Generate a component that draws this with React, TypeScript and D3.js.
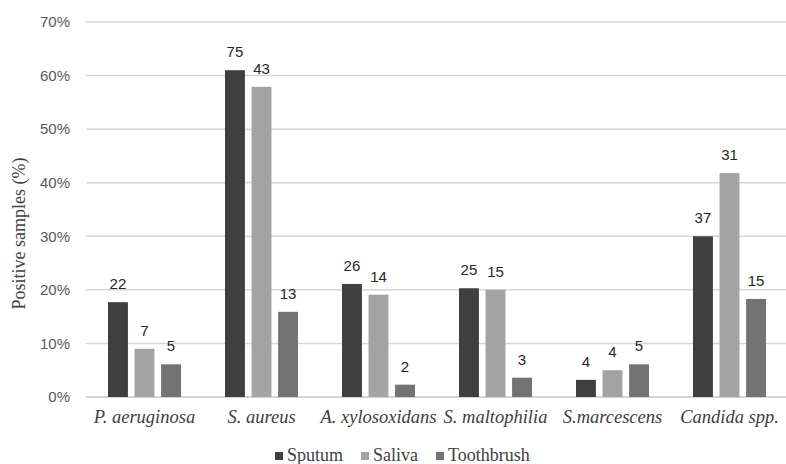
import { useEffect, useRef } from 'react'
import * as d3 from 'd3'

const categories = ['P. aeruginosa', 'S. aureus', 'A. xylosoxidans', 'S. maltophilia', 'S.marcescens', 'Candida spp.']
const seriesNames = ['Sputum', 'Saliva', 'Toothbrush']
// percent of positive samples
const sputumPct = [17.7, 61, 21.1, 20.3, 3.2, 30]
const salivaPct = [9, 57.9, 19.1, 20, 5, 41.8]
const toothbrushPct = [6.1, 15.9, 2.3, 3.6, 6.1, 18.3]
// number of positive samples (bar labels)
const sputumN = [22, 75, 26, 25, 4, 37]
const salivaN = [7, 43, 14, 15, 4, 31]
const toothbrushN = [5, 13, 2, 3, 5, 15]
const yTicks = [0, 10, 20, 30, 40, 50, 60, 70]

const colors = ['#3f3f3f', '#a3a3a3', '#737373']

export default function App() {
  const svgRef = useRef<SVGSVGElement>(null)
  const width = 786
  const height = 464

  useEffect(() => {
    if (!svgRef.current) return
    const svg = d3.select(svgRef.current)
    svg.selectAll('*').remove()

    const left = 86
    const right = 788
    const top = 22
    const bottom = 397

    const pct = [sputumPct, salivaPct, toothbrushPct]
    const counts = [sputumN, salivaN, toothbrushN]

    const x0 = d3.scaleBand<string>().domain(categories).range([left, right])
    const x1 = d3.scaleBand<string>().domain(seriesNames).range([0, 73]).paddingInner(0.25)
    const y = d3.scaleLinear().domain([0, 70]).range([bottom, top])

    svg.append('rect').attr('width', width).attr('height', height).attr('fill', '#fff')

    // gridlines
    svg
      .append('g')
      .selectAll('line')
      .data(yTicks)
      .enter()
      .append('line')
      .attr('x1', left)
      .attr('x2', 786)
      .attr('y1', (d) => y(d))
      .attr('y2', (d) => y(d))
      .attr('stroke', (d) => (d === 0 ? '#c4c4c4' : '#d6d6d6'))
      .attr('stroke-width', 1.5)

    // y tick labels
    svg
      .append('g')
      .selectAll('text')
      .data(yTicks)
      .enter()
      .append('text')
      .attr('x', 70)
      .attr('y', (d) => y(d))
      .attr('dy', '0.35em')
      .attr('text-anchor', 'end')
      .attr('font-family', 'Liberation Sans, Arial, sans-serif')
      .attr('font-size', 15)
      .attr('fill', '#595959')
      .text((d) => `${d}%`)

    // y axis title
    svg
      .append('text')
      .attr('transform', `translate(25,${(top + bottom) / 2 + 24}) rotate(-90)`)
      .attr('text-anchor', 'middle')
      .attr('font-family', 'Liberation Serif, Times New Roman, serif')
      .attr('font-size', 18)
      .attr('fill', '#404040')
      .text('Positive samples (%)')

    // bars
    const groupOffset = (x0.bandwidth() - 73) / 2
    seriesNames.forEach((s, si) => {
      const g = svg.append('g')
      g.selectAll('rect')
        .data(categories)
        .enter()
        .append('rect')
        .attr('x', (c) => (x0(c) || 0) + groupOffset + (x1(s) || 0))
        .attr('y', (_c, i) => y(pct[si][i]))
        .attr('width', x1.bandwidth())
        .attr('height', (_c, i) => bottom - y(pct[si][i]))
        .attr('fill', colors[si])

      g.selectAll('text')
        .data(categories)
        .enter()
        .append('text')
        .attr('x', (c) => (x0(c) || 0) + groupOffset + (x1(s) || 0) + x1.bandwidth() / 2)
        .attr('y', (_c, i) => y(pct[si][i]) - 13)
        .attr('text-anchor', 'middle')
        .attr('font-family', 'Liberation Sans, Arial, sans-serif')
        .attr('font-size', 15)
        .attr('fill', '#262626')
        .text((_c, i) => counts[si][i])
    })

    // category labels
    svg
      .append('g')
      .selectAll('text')
      .data(categories)
      .enter()
      .append('text')
      .attr('x', (c) => (x0(c) || 0) + x0.bandwidth() / 2)
      .attr('y', 423)
      .attr('text-anchor', 'middle')
      .attr('font-family', 'Liberation Serif, Times New Roman, serif')
      .attr('font-style', 'italic')
      .attr('font-size', 18.5)
      .attr('fill', '#404040')
      .text((c) => c)

    // legend
    const legendX = [275, 361, 436]
    const legend = svg.append('g')
    seriesNames.forEach((s, i) => {
      legend
        .append('rect')
        .attr('x', legendX[i])
        .attr('y', 452)
        .attr('width', 8)
        .attr('height', 8)
        .attr('fill', colors[i])
      legend
        .append('text')
        .attr('x', legendX[i] + 12)
        .attr('y', 461)
        .attr('font-family', 'Liberation Serif, Times New Roman, serif')
        .attr('font-size', 18)
        .attr('fill', '#404040')
        .text(s)
    })
  }, [])

  return (
    <svg
      ref={svgRef}
      width={width}
      height={height}
      style={{ position: 'absolute', left: 0, top: 0, display: 'block' }}
    />
  )
}
